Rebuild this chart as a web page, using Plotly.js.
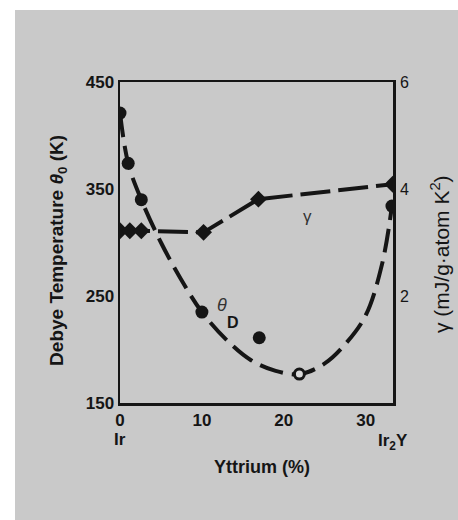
<!DOCTYPE html>
<html>
<head>
<meta charset="utf-8">
<script src="https://cdn.plot.ly/plotly-3.0.1.min.js"></script>
<style>
html,body{margin:0;padding:0;background:#c9c9c9;overflow:hidden;width:100%;height:100%;}
#chart{position:absolute;left:15px;top:10px;width:443px;height:510px;}
#wl{position:absolute;left:0;top:0;width:15px;height:100%;background:#fff;}
#wt{position:absolute;left:0;top:0;width:100%;height:10px;background:#fff;}
</style>
</head>
<body>
<div id="wl"></div><div id="wt"></div>
<div id="chart"></div>
<script>
// Debye temperature data points (K) vs yttrium content (%)
const thetaX = [0, 1.0, 2.6, 10.0, 17.0, 33.2];
const thetaY = [421, 374, 340, 235, 211, 334];
// open-circle point
const openX = [21.9];
const openY = [177];
// dashed guide curve through theta data
const fitX = [0, 1, 2.6, 5, 7.5, 10, 13, 16, 19, 22, 25, 27.5, 30, 32, 33.2];
const fitY = [421, 374, 340, 300, 265, 235, 209, 190, 180, 177, 187, 205, 232, 280, 334];
// electronic specific heat coefficient gamma (mJ/g-atom K^2)
const gammaX = [0, 1.2, 2.6, 10.2, 16.9, 33.3];
const gammaY = [3.22, 3.22, 3.22, 3.19, 3.81, 4.09];
// tick values
const xTicks = [0, 10, 20, 30];
const yTicks = [150, 250, 350, 450];
const y2Ticks = [2, 4, 6];

const ink = '#151515';
const bg = '#c9c9c9';
const fam = '"Liberation Sans", Arial, sans-serif';

const traces = [
  {x: fitX, y: fitY, mode: 'lines', line: {shape: 'spline', smoothing: 1, color: ink, width: 4, dash: '24px,9px'}, hoverinfo: 'skip'},
  {x: thetaX, y: thetaY, mode: 'markers', marker: {symbol: 'circle', size: 13, color: ink}},
  {x: openX, y: openY, mode: 'markers', marker: {symbol: 'circle', size: 10, color: '#d8d8d8', line: {color: ink, width: 3}}},
  {x: gammaX, y: gammaY, yaxis: 'y2', mode: 'lines+markers', line: {color: ink, width: 4, dash: '30px,8px'}, marker: {symbol: 'diamond', size: 13, color: ink}}
];

const layout = {
  width: 443, height: 510,
  margin: {l: 105, r: 65, t: 72, b: 117},
  paper_bgcolor: bg, plot_bgcolor: bg,
  showlegend: false,
  font: {family: fam, color: ink},
  xaxis: {range: [0, 33.33], tickvals: xTicks, ticks: '', showgrid: false, zeroline: false,
          showline: true, linecolor: ink, linewidth: 2.5, mirror: true,
          tickfont: {size: 17, family: fam, weight: 'bold', color: ink}},
  yaxis: {range: [150, 450], tickvals: yTicks, ticks: '', showgrid: false, zeroline: false,
          showline: true, linecolor: ink, linewidth: 2.5, mirror: true,
          tickfont: {size: 17, family: fam, weight: 'bold', color: ink}},
  yaxis2: {overlaying: 'y', side: 'right', range: [0, 6], tickvals: y2Ticks, ticks: '', showgrid: false,
           zeroline: false, showline: false, ticklabelstandoff: 6,
           tickfont: {size: 16, family: fam, color: ink}},
  annotations: [
    {xref: 'paper', yref: 'paper', x: -0.227, y: 0.474, xanchor: 'center', yanchor: 'middle', textangle: -90, showarrow: false,
     text: 'Debye Temperature <i>θ</i><sub>0</sub> (K)', font: {size: 19, weight: 'bold', family: fam, color: ink}},
    {xref: 'paper', yref: 'paper', x: 1.173, y: 0.465, xanchor: 'center', yanchor: 'middle', textangle: -90, showarrow: false,
     text: 'γ (mJ/g·atom K<sup>2</sup>)', font: {size: 21, family: fam, color: ink}},
    {xref: 'paper', yref: 'paper', x: 0, y: -0.115, xanchor: 'center', yanchor: 'middle', showarrow: false,
     text: 'Ir', font: {size: 17, weight: 'bold', family: fam, color: ink}},
    {xref: 'paper', yref: 'paper', x: 1.0, y: -0.12, xanchor: 'center', yanchor: 'middle', showarrow: false,
     text: 'Ir<sub>2</sub>Y', font: {size: 17, weight: 'bold', family: fam, color: ink}},
    {xref: 'paper', yref: 'paper', x: 0.52, y: -0.199, xanchor: 'center', yanchor: 'middle', showarrow: false,
     text: 'Yttrium (%)', font: {size: 18, weight: 'bold', family: fam, color: ink}},
    {xref: 'x', yref: 'y2', x: 22.9, y: 3.48, showarrow: false,
     text: 'γ', font: {size: 17, family: fam, color: '#333'}},
    {xref: 'x', yref: 'y', x: 12.45, y: 241.6, showarrow: false,
     text: '<i>θ</i>', font: {size: 18, family: fam, color: '#333'}},
    {xref: 'x', yref: 'y', x: 13.8, y: 225.7, showarrow: false,
     text: 'D', font: {size: 16, weight: 'bold', family: fam, color: ink}}
  ]
};

Plotly.newPlot('chart', traces, layout, {displayModeBar: false, staticPlot: true});
</script>
</body>
</html>
